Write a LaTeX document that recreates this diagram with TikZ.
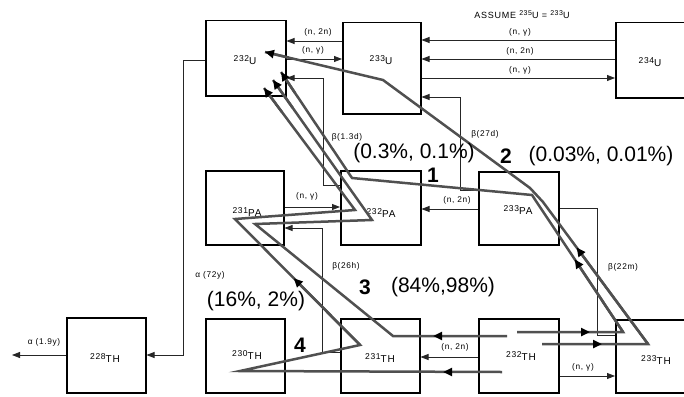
\documentclass[tikz,border=0pt]{standalone}
\usepackage{fontspec}
\setmainfont{Liberation Sans}
\newfontfamily\lsp[LetterSpace=8]{Liberation Sans}
\usetikzlibrary{arrows.meta,calc}
\definecolor{gpc}{HTML}{505050}
\newcommand{\iso}[2]{{\lsp\fontsize{8.5}{9}\selectfont #1}\raisebox{-3pt}{\lsp\fontsize{10}{11}\selectfont #2}}
\newcommand{\isa}[2]{\raisebox{3pt}{\fontsize{7}{7}\selectfont #1}#2}
\begin{document}
\begin{tikzpicture}[x=1pt,y=-1pt,
  box/.style={draw,line width=1.5pt,inner sep=0pt,anchor=north west},
  tl/.style={line width=0.8pt,draw=black!85},
  ta/.style={tl,-{Triangle[length=8pt,width=6pt]}},
  lab/.style={inner sep=0pt,font=\lsp\fontsize{8.3}{9}\selectfont},
  gp/.style={line width=2.5pt,draw=gpc,line join=miter,line cap=butt},
  ga/.style={gp,-{Triangle[length=9pt,width=8pt,color=black]}},
  big/.style={inner sep=0pt,font=\fontsize{21}{24}\selectfont},
  num/.style={inner sep=0pt,font=\fontsize{21}{24}\selectfont\bfseries},
  iso/.style={inner sep=0pt}
]
\useasboundingbox (0,0) rectangle (684,396);
\clip (0,0) rectangle (684,396);
\fill[white] (0,0) rectangle (684,396);

% boxes
\node[box,minimum width=80pt,minimum height=75pt] (u232) at (205,20) {};
\node[box,minimum width=78pt,minimum height=91pt] (u233) at (342,22) {};
\node[box,minimum width=70pt,minimum height=75pt] (u234) at (615,22) {};
\node[box,minimum width=78pt,minimum height=74pt] (pa231) at (205,170) {};
\node[box,minimum width=80pt,minimum height=74pt] (pa232) at (340,170) {};
\node[box,minimum width=80pt,minimum height=73pt] (pa233) at (478,171) {};
\node[box,minimum width=79pt,minimum height=75pt] (th228) at (66,317) {};
\node[box,minimum width=79pt,minimum height=74pt] (th230) at (205,318) {};
\node[box,minimum width=79pt,minimum height=74pt] (th231) at (340,318) {};
\node[box,minimum width=80pt,minimum height=74pt] (th232) at (478,318) {};
\node[box,minimum width=80pt,minimum height=73pt] (th233) at (615,319) {};

% box labels
\node[iso] (u232t) at (245,60) {\iso{232}{U}};
\node[iso] (u233t) at (381,60) {\iso{233}{U}};
\node[iso] (u234t) at (650,62) {\iso{234}{U}};
\node[iso] (pa231t) at (247,212) {\iso{231}{PA}};
\node[iso] (pa232t) at (381,213) {\iso{232}{PA}};
\node[iso] (pa233t) at (518,210) {\iso{233}{PA}};
\node[iso] (th228t) at (105,358) {\iso{228}{TH}};
\node[iso] (th230t) at (247,355) {\iso{230}{TH}};
\node[iso] (th231t) at (380,358) {\iso{231}{TH}};
\node[iso] (th232t) at (521,356) {\iso{232}{TH}};
\node[iso] (th233t) at (656,360) {\iso{233}{TH}};

% thin connectors
\coordinate (aout) at (12,355);
\draw[ta] (u233.west|-0,41) -- (u232.east|-0,41);
\draw[ta] (u232.east|-0,59) -- (u233.west|-0,59);
\draw[ta] (u234.west|-0,40) -- (u233.east|-0,40);
\draw[ta] (u234.west|-0,59) -- (u233.east|-0,59);
\draw[ta] (u233.east|-0,78) -- (u234.west|-0,78);
\draw[ta] (pa233.west|-0,190) -- (460,190) -- (460,97) -- (u233.east|-0,97);
\draw[ta] (pa232.west|-0,185) -- (323,185) -- (323,78) -- (u232.east|-0,78);
\draw[ta] (pa231.east|-0,207) -- (pa232.west|-0,207);
\draw[ta] (th231.west|-0,352) -- (322,352) -- (322,228) -- (pa231.east|-0,228);
\draw[ta] (pa233.west|-0,209) -- (pa232.east|-0,209);
\draw[tl] (th233.west|-0,335) -- (597,335) -- (597,208) -- (pa233.east|-0,208);
\draw[ta] (u232.west|-0,60) -- (183,60) -- (183,355) -- (th228.east|-0,355);
\draw[ta] (th228.west|-0,355) -- (aout);
\draw[ta] (th232.west|-0,357) -- (th231.east|-0,357);
\draw[ta] (th232.east|-0,376) -- (th233.west|-0,376);

% thin labels
\node[lab] (l1) at (318,32) {(n, 2n)};
\node[lab] (l2) at (313,50) {(n, γ)};
\node[lab] (l3) at (520,32) {(n, γ)};
\node[lab] (l4) at (520,51) {(n, 2n)};
\node[lab] (l5) at (520,70) {(n, γ)};
\node[lab,font=\lsp\fontsize{9}{10}\selectfont] (assume) at (522,15) {ASSUME \isa{235}{U} = \isa{233}{U}};
\node[lab] (l6) at (347,137) {β(1.3d)};
\node[lab] (l7) at (485,134) {β(27d)};
\node[lab] (l8) at (307,196) {(n, γ)};
\node[lab] (l9) at (457,200) {(n, 2n)};
\node[lab] (l10) at (346,266) {β(26h)};
\node[lab] (l11) at (210,275) {α (72y)};
\node[lab] (l12) at (623,267) {β(22m)};
\node[lab] (l13) at (44,342) {α (1.9y)};
\node[lab] (l14) at (455,347) {(n, 2n)};
\node[lab] (l15) at (583,367) {(n, γ)};

% gray reaction paths
\coordinate (p1a) at (517,332); \coordinate (p1b) at (623,332);
\coordinate (p1c) at (532,195); \coordinate (p1d) at (352,178);
\coordinate (p1e) at (281,72);
\coordinate (p2a) at (542,344); \coordinate (p2b) at (648,344);
\coordinate (p2c) at (543,202); \coordinate (p2d) at (530,188);
\coordinate (p2e) at (383,80); \coordinate (p2f) at (265,52);
\coordinate (p3a) at (507,336); \coordinate (p3b) at (393,336);
\coordinate (p3c) at (255,224); \coordinate (p3d) at (372,220);
\coordinate (p3e) at (273,80);
\coordinate (p4a) at (502,372); \coordinate (p4b) at (240,371);
\coordinate (p4c) at (360,345); \coordinate (p4d) at (235,219);
\coordinate (p4e) at (355,210); \coordinate (p4f) at (264,88);

\draw[gp] (p1a) -- (p1b) -- (p1c) -- (p1d) -- (p1e);
\draw[gp] (p2a) -- (p2b) -- (p2c) -- (p2d) -- (p2e) -- (p2f);
\draw[gp] (p3a) -- (p3b) -- (p3c) -- (p3d) -- (p3e);
\draw[gp] (p4a) -- (p4b) -- (p4c) -- (p4d) -- (p4e) -- (p4f);

\draw[ga] ($(p1d)!0.8!(p1e)$) -- (p1e);
\draw[ga] ($(p2e)!0.8!(p2f)$) -- (p2f);
\draw[ga] ($(p3d)!0.8!(p3e)$) -- (p3e);
\draw[ga] ($(p4e)!0.8!(p4f)$) -- (p4f);
\draw[ga] (p1a) -- (590,332);
\draw[ga] (p2a) -- (602,344);
\draw[ga] (p1b) -- ($(p1b)!0.53!(p1c)$);
\draw[ga] (p2b) -- ($(p2b)!0.68!(p2c)$);
\draw[ga] (p3a) -- (433,336);
\draw[ga] (p4a) -- (443,372);
\draw[ga] (p4c) -- ($(p4c)!0.53!(p4d)$);

% percentages
\node[big] (t1) at (414,153) {(0.3\%, 0.1\%)};
\node[num] (n1) at (433,175) {1};
\node[num] (n2) at (506,156) {2};
\node[big] (t2) at (601,156) {(0.03\%, 0.01\%)};
\node[num] (n3) at (365,287) {3};
\node[big] (t3) at (443,287) {(84\%,98\%)};
\node[big] (t4) at (256,301) {(16\%, 2\%)};
\node[num] (n4) at (300,345) {4};
\end{tikzpicture}
\end{document}
